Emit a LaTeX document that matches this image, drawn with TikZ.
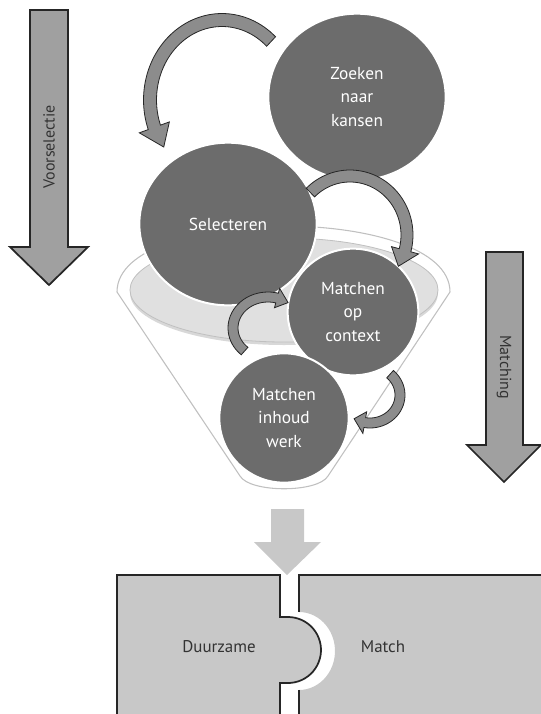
\documentclass[tikz,border=0pt]{standalone}
\usepackage{fontspec}
\setmainfont{PT Sans}
\usepackage{xcolor}
\usetikzlibrary{shapes.geometric, positioning}
\definecolor{bubblegray}{RGB}{108,108,108}
\definecolor{curlgray}{RGB}{140,140,140}
\definecolor{bargray}{RGB}{160,160,160}
\definecolor{piecegray}{RGB}{200,200,200}
\definecolor{rimgray}{RGB}{224,224,224}
\definecolor{shadegray}{RGB}{216,216,216}
\definecolor{funnelgray}{RGB}{192,192,192}
\definecolor{inkgray}{RGB}{38,38,38}
\definecolor{textgray}{RGB}{51,51,51}

% curved block arrow: centre, radii, tail angle, head angle, tip angle, half width, head half width
\newcommand{\bendarrow}[9]{%
  \filldraw[curl]
    plot[smooth, domain=#5:#6, samples=30] ({#1+(#3+#8)*cos(\x)},{#2+(#4+#8)*sin(\x)})
    -- ({#1+(#3+#9)*cos(#6)},{#2+(#4+#9)*sin(#6)})
    -- ({#1+#3*cos(#7)},{#2+#4*sin(#7)})
    -- ({#1+(#3-#9)*cos(#6)},{#2+(#4-#9)*sin(#6)})
    -- plot[smooth, domain=#6:#5, samples=30] ({#1+(#3-#8)*cos(\x)},{#2+(#4-#8)*sin(\x)})
    -- cycle;}

\begin{document}
\begin{tikzpicture}[x=0.75pt, y=-0.75pt,
  every node/.style={font=\fontsize{12.7}{17.5}\selectfont, text=textgray},
  bubble/.style={ellipse, fill=bubblegray, draw=white, line width=1.5pt, text=white, align=center, inner sep=0pt, font=\fontsize{13}{17.5}\selectfont},
  bar/.style={fill=bargray, draw=inkgray, line width=1.3pt, line join=miter},
  curl/.style={fill=curlgray, draw=inkgray, line width=0.6pt, line join=miter},
  piece/.style={fill=piecegray, draw=inkgray, line width=1.3pt}]
\useasboundingbox (0,0) rectangle (541,714);
\clip (0,0) rectangle (541,714);

% Side arrows
\draw[bar] (30,10) -- (68,10) -- (68,247) -- (88,247) -- (49,285) -- (10,247) -- (30,247) -- cycle;
\node[rotate=90, font=\fontsize{12}{14}\selectfont] (voorselectie) at (49,147) {Voorselectie};
\draw[bar] (486,252) -- (523,252) -- (523,445) -- (541,445) -- (504,482) -- (467,445) -- (486,445) -- cycle;
\node[rotate=-90, font=\fontsize{12}{14}\selectfont] (matching) at (504,367) {Matching};

% Funnel
\draw[funnelgray, fill=white, line width=0.8pt] (117,292) .. controls (117,204) and (450,204) .. (450,292)
  -- (328,476) .. controls (318,493) and (250,493) .. (240,476) -- cycle;
\fill[shadegray] (284,293) ellipse[x radius=154, y radius=52];
\filldraw[fill=rimgray, draw=funnelgray, line width=0.6pt] (284,290) ellipse[x radius=154, y radius=52];

% Steps
\node[bubble, minimum width=133pt, minimum height=125pt] (zoeken) at (357,97) {Zoeken\\naar\\kansen};
\node[bubble, minimum width=133pt, minimum height=122pt] (selecteren) at (228,224) {Selecteren};
\node[bubble, minimum width=98pt, minimum height=95pt] (context) at (353,312) {Matchen\\op\\context};
\node[bubble, minimum width=97pt, minimum height=97pt] (inhoud) at (284,418) {Matchen\\inhoud\\werk};

% Curved arrows
\bendarrow{222}{100}{72}{80}{-47}{-200}{-216}{6.5}{16}
\bendarrow{350}{235}{57}{59}{-134}{15}{32}{6}{14}
\bendarrow{268}{328}{35}{31}{132}{285}{305}{5}{10}
\bendarrow{370}{395}{30}{28}{-48}{100}{122}{5}{11}

% Result
\fill[piecegray] (271,509) -- (304,509) -- (304,542) -- (321,542) -- (287,575) -- (254,542) -- (271,542) -- cycle;
\filldraw[piece] (117,720) -- (117,575) -- (280,575) -- (280,617) -- (288,617)
  -- plot[smooth, domain=-90:90, samples=30] ({288+33*cos(\x)},{650+33*sin(\x)})
  -- (280,683) -- (280,720);
\fill[piecegray] (299,575) -- (560,575) -- (560,720) -- (299,720) -- (299,690)
  -- plot[smooth, domain=90:-90, samples=30] ({299+36*cos(\x)},{651+39*sin(\x)}) -- cycle;
\draw[piece, fill=none] (560,575) -- (299,575) -- (299,612);
\draw[piece, fill=none] (299,690) -- (299,720);
\node (duurzame) at (219,647) {Duurzame};
\node (match) at (383,647) {Match};
\end{tikzpicture}
\end{document}
